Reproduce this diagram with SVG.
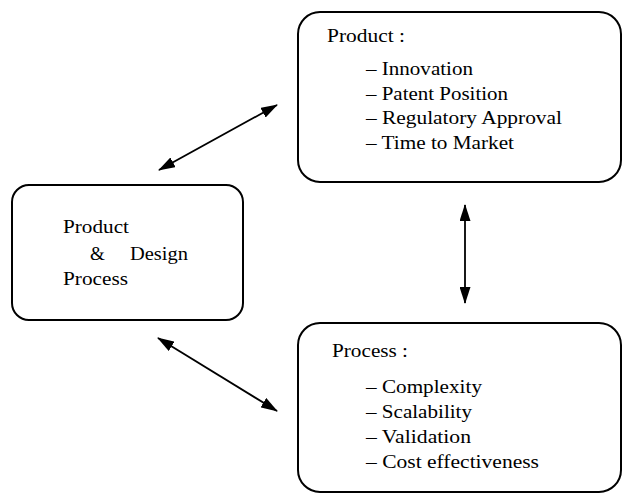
<svg xmlns="http://www.w3.org/2000/svg" width="623" height="495" viewBox="0 0 623 495">
<defs>
<style>
.box{fill:#fff;stroke:#000;stroke-width:2}
.t{font-family:"Liberation Serif","Times New Roman",serif;font-size:19px;fill:#000}
.c{fill:none;stroke:#000;stroke-width:1.8}
</style>
<marker id="ah" viewBox="0 0 17 11" refX="16" refY="5.5" markerWidth="17" markerHeight="11" markerUnits="userSpaceOnUse" orient="auto-start-reverse">
<path d="M0,0 L17,5.5 L0,11 Z" fill="#000"/>
</marker>
</defs>
<rect width="623" height="495" fill="#fff"/>
<g id="connectors">
<line class="c" x1="159" y1="170" x2="277" y2="105" marker-start="url(#ah)" marker-end="url(#ah)"/>
<line class="c" x1="158" y1="338" x2="277" y2="411" marker-start="url(#ah)" marker-end="url(#ah)"/>
<line class="c" x1="465" y1="205" x2="465" y2="303" marker-start="url(#ah)" marker-end="url(#ah)"/>
</g>
<g id="product">
<rect class="box" x="298" y="12" width="323" height="170" rx="22" ry="22"/>
<text class="t" x="327" y="42" textLength="78" lengthAdjust="spacingAndGlyphs">Product :</text>
<text class="t" x="366" y="75" textLength="107" lengthAdjust="spacingAndGlyphs">– Innovation</text>
<text class="t" x="366" y="100" textLength="142" lengthAdjust="spacingAndGlyphs">– Patent Position</text>
<text class="t" x="366" y="124" textLength="196" lengthAdjust="spacingAndGlyphs">– Regulatory Approval</text>
<text class="t" x="366" y="149" textLength="148" lengthAdjust="spacingAndGlyphs">– Time to Market</text>
</g>
<g id="design">
<rect class="box" x="12" y="185" width="231" height="135" rx="17" ry="17"/>
<text class="t" x="63" y="233" textLength="66" lengthAdjust="spacingAndGlyphs">Product</text>
<text class="t" y="260"><tspan x="90">&amp;</tspan><tspan x="130" textLength="58" lengthAdjust="spacingAndGlyphs">Design</tspan></text>
<text class="t" x="63" y="285" textLength="65" lengthAdjust="spacingAndGlyphs">Process</text>
</g>
<g id="process">
<rect class="box" x="298" y="323" width="323" height="169" rx="22" ry="22"/>
<text class="t" x="332" y="357" textLength="76" lengthAdjust="spacingAndGlyphs">Process :</text>
<text class="t" x="366" y="393" textLength="116" lengthAdjust="spacingAndGlyphs">– Complexity</text>
<text class="t" x="366" y="418" textLength="106" lengthAdjust="spacingAndGlyphs">– Scalability</text>
<text class="t" x="366" y="443" textLength="105" lengthAdjust="spacingAndGlyphs">– Validation</text>
<text class="t" x="366" y="468" textLength="173" lengthAdjust="spacingAndGlyphs">– Cost effectiveness</text>
</g>
</svg>
